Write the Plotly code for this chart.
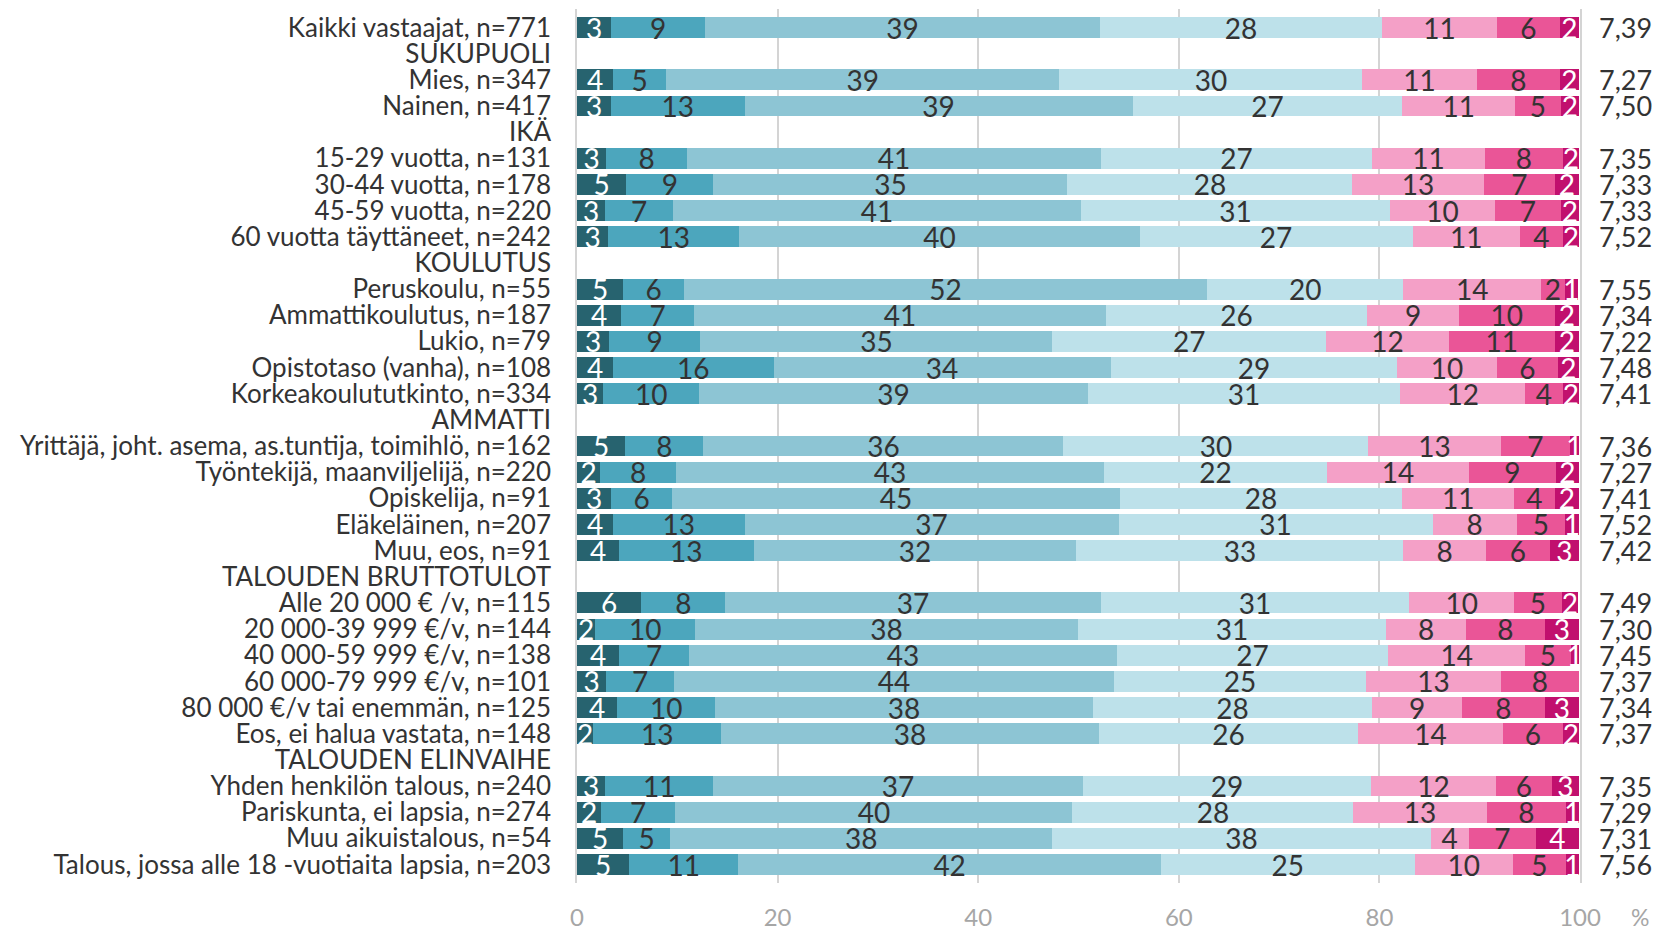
import plotly.graph_objects as go

categories = [
    "Kaikki vastaajat, n=771", "SUKUPUOLI", "Mies, n=347", "Nainen, n=417", "IKÄ",
    "15-29 vuotta, n=131", "30-44 vuotta, n=178", "45-59 vuotta, n=220", "60 vuotta täyttäneet, n=242",
    "KOULUTUS", "Peruskoulu, n=55", "Ammattikoulutus, n=187", "Lukio, n=79", "Opistotaso (vanha), n=108",
    "Korkeakoulututkinto, n=334", "AMMATTI", "Yrittäjä, joht. asema, as.tuntija, toimihlö, n=162",
    "Työntekijä, maanviljelijä, n=220", "Opiskelija, n=91", "Eläkeläinen, n=207", "Muu, eos, n=91",
    "TALOUDEN BRUTTOTULOT", "Alle 20 000 € /v, n=115", "20 000-39 999 €/v, n=144", "40 000-59 999 €/v, n=138",
    "60 000-79 999 €/v, n=101", "80 000 €/v tai enemmän, n=125", "Eos, ei halua vastata, n=148",
    "TALOUDEN ELINVAIHE", "Yhden henkilön talous, n=240", "Pariskunta, ei lapsia, n=274",
    "Muu aikuistalous, n=54", "Talous, jossa alle 18 -vuotiaita lapsia, n=203",
]

N = None
# seven answer classes, percentages per row (None = header row / no value)
s1 = [3.4, N, 3.6, 3.4, N, 2.9, 4.9, 2.8, 3.1, N, 4.6, 4.4, 3.2, 3.6, 2.6, N, 4.8, 2.3, 3.4, 3.6, 4.2, N, 6.4, 1.8, 4.2, 2.9, 4.0, 1.6, N, 2.8, 2.4, 4.6, 5.2]
s2 = [9.4, N, 5.3, 13.3, N, 8.1, 8.7, 6.8, 13.1, N, 6.1, 7.3, 9.1, 16.0, 9.6, N, 7.8, 7.6, 6.1, 13.1, 13.4, N, 8.4, 10.0, 7.0, 6.8, 9.8, 12.8, N, 10.8, 7.4, 4.7, 10.9]
s3 = [39.3, N, 39.2, 38.7, N, 41.2, 35.3, 40.6, 39.9, N, 52.1, 41.0, 35.1, 33.6, 38.7, N, 35.9, 42.6, 44.6, 37.3, 32.2, N, 37.4, 38.1, 42.6, 43.8, 37.6, 37.6, N, 36.8, 39.6, 38.1, 42.1]
s4 = [28.2, N, 30.2, 26.9, N, 27.1, 28.4, 30.9, 27.2, N, 19.6, 26.1, 27.3, 28.6, 31.2, N, 30.4, 22.3, 28.2, 31.3, 32.6, N, 30.8, 30.8, 27.1, 25.2, 27.9, 25.9, N, 28.8, 28.0, 37.7, 25.3]
s5 = [11.4, N, 11.4, 11.2, N, 11.2, 13.1, 10.4, 10.7, N, 13.7, 9.1, 12.2, 9.9, 12.4, N, 13.2, 14.1, 11.1, 8.4, 8.2, N, 10.4, 7.9, 13.6, 13.4, 8.9, 14.4, N, 12.4, 13.3, 3.8, 9.8]
s6 = [6.3, N, 8.3, 4.6, N, 7.8, 7.1, 6.6, 4.3, N, 2.4, 9.6, 10.6, 6.1, 3.8, N, 6.9, 8.7, 4.1, 4.8, 6.4, N, 4.8, 7.9, 4.6, 7.8, 8.3, 6.0, N, 5.6, 7.9, 6.7, 5.3]
s7 = [1.9, N, 1.9, 1.8, N, 1.6, 2.4, 1.8, 1.6, N, 1.3, 2.4, 2.4, 2.1, 1.6, N, 0.9, 2.3, 2.4, 1.4, 2.9, N, 1.6, 3.4, 0.8, N, 3.4, 1.6, N, 2.7, 1.3, 4.3, 1.3]
averages = [7.39, N, 7.27, 7.50, N, 7.35, 7.33, 7.33, 7.52, N, 7.55, 7.34, 7.22, 7.48, 7.41, N, 7.36, 7.27, 7.41, 7.52, 7.42, N, 7.49, 7.30, 7.45, 7.37, 7.34, 7.37, N, 7.35, 7.29, 7.31, 7.56]

x_ticks = [0, 20, 40, 60, 80, 100]

series = [s1, s2, s3, s4, s5, s6, s7]
colors = ["#27636f", "#4ca6bd", "#8dc5d4", "#bde1ea", "#f4a0c7", "#ea5597", "#c1106e"]
text_colors = ["#ffffff", "#333333", "#333333", "#333333", "#333333", "#333333", "#ffffff"]

FONT = "Lato, 'Open Sans', sans-serif"

fig = go.Figure()
for vals, col, tcol in zip(series, colors, text_colors):
    fig.add_trace(go.Bar(
        y=categories, x=vals, orientation="h",
        marker=dict(color=col, line=dict(width=0)),
        texttemplate="%{x:.0f}", textposition="inside", insidetextanchor="middle",
        textangle=0, constraintext="none", cliponaxis=False,
        textfont=dict(family=FONT, size=28, color=tcol),
        hoverinfo="skip", showlegend=False,
    ))

for cat, avg in zip(categories, averages):
    if avg is None:
        continue
    fig.add_annotation(
        x=1, xref="paper", y=cat, yref="y", xshift=17, xanchor="left",
        text=f"{avg:.2f}".replace(".", ","), showarrow=False,
        font=dict(family=FONT, size=27, color="#333333"),
    )

fig.add_annotation(
    x=1, xref="paper", y=0, yref="paper", xshift=60, yshift=-34, xanchor="center", yanchor="middle",
    text="%", showarrow=False, font=dict(family=FONT, size=23, color="#a6a6a6"),
)

fig.update_layout(
    barmode="stack", bargap=0.2,
    width=1660, height=930,
    margin=dict(l=577, r=80, t=9, b=47, autoexpand=False),
    plot_bgcolor="white", paper_bgcolor="white",
    font=dict(family=FONT, color="#333333"),
)
fig.update_xaxes(
    range=[0, 100], tickvals=x_ticks, showgrid=True, gridcolor="#d4d4d4", gridwidth=1.5,
    zeroline=False, showline=False, ticks="", automargin=False,
    tickfont=dict(family=FONT, size=24, color="#a6a6a6"), ticklabelstandoff=18,
)
fig.update_yaxes(
    autorange="reversed", type="category", showgrid=False, zeroline=False,
    tickmode="array", tickvals=categories, ticktext=categories, automargin=False,
    showline=True, mirror=True, linecolor="#d4d4d4", linewidth=1.5, ticks="",
    tickfont=dict(family=FONT, size=26, color="#333333"), ticklabelstandoff=19,
)

fig.write_html("out.html", config={"displayModeBar": False},
               post_script="document.body.style.margin='0';")
